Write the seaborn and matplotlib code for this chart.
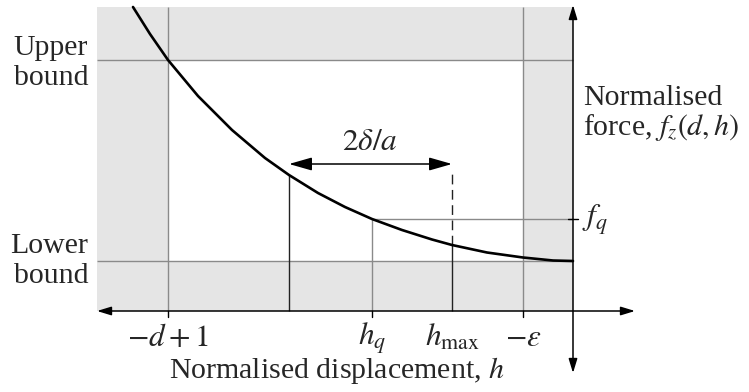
import numpy as np
import matplotlib
matplotlib.use("Agg")
import matplotlib.pyplot as plt
from matplotlib.patches import FancyArrowPatch
import seaborn as sns

# Schematic units: h = 0 at the force axis, f = 0 at the displacement axis
curve_h = [-4.40, -4.23, -4.05, -3.75, -3.41, -3.08, -2.84, -2.55, -2.28,
           -2.01, -1.71, -1.41, -1.21, -0.86, -0.50, -0.20, 0.00]
curve_f = [3.04, 2.77, 2.51, 2.15, 1.81, 1.53, 1.36, 1.18, 1.04,
           0.92, 0.81, 0.715, 0.66, 0.585, 0.535, 0.505, 0.50]

h_ticks = [-4.05, -2.01, -1.21, -0.50]
h_tick_labels = [r"$-d+1$", r"$h_q$", r"$h_{\max}$", r"$-\varepsilon$"]
h_lower, h_upper = -4.05, -0.50      # -d+1 and -eps
h_q, h_max = -2.01, -1.21
h_start = -2.84                      # left end of the 2delta/a span
f_lower, f_upper = 0.50, 2.51        # lower / upper bound
f_q = 0.92
f_span_arrow = 1.47
f_dash_top = 1.41

h_min, h_max_axis = -4.76, 0.62
f_min, f_top = -0.62, 3.06
f_shade_top = 3.04

sns.set_theme(style="white")
plt.rcParams["font.family"] = ["Liberation Serif", "DejaVu Serif"]
plt.rcParams["mathtext.fontset"] = "stix"

fig = plt.figure(figsize=(7.49, 3.92), dpi=100)
ax = fig.add_axes([0, 0, 1, 1])
ax.set_xlim(-5.73, 1.76)
ax.set_ylim(-0.81, 3.11)
ax.axis("off")

grey_fill = "#e5e5e5"
grey_line = "#8a8a8a"

# shaded outer region and white admissible window
ax.fill_between([h_min, 0], 0, f_shade_top, color=grey_fill, lw=0, zorder=0)
ax.fill_between([h_lower, h_upper], f_lower, f_upper, color="white", lw=0, zorder=0.5)

# bound lines
ax.vlines([h_lower, h_upper], 0, f_shade_top, color=grey_line, lw=1.0, zorder=1)
ax.hlines([f_lower, f_upper], h_min, 0, color=grey_line, lw=1.0, zorder=1)

# h_q / f_q guides
q_idx = curve_h.index(h_q)
ax.vlines(h_q, 0, curve_f[q_idx], color=grey_line, lw=1.0, zorder=1)
ax.hlines(f_q, h_q, 0, color=grey_line, lw=1.0, zorder=1)

# black verticals at span ends
s_idx = curve_h.index(h_start)
m_idx = curve_h.index(h_max)
ax.vlines(h_start, 0, curve_f[s_idx], color="#222222", lw=1.0, zorder=2)
ax.vlines(h_max, 0, curve_f[m_idx], color="#222222", lw=1.0, zorder=2)
ax.plot([h_max, h_max], [curve_f[m_idx], f_dash_top], color="#222222", lw=1.0,
        dashes=(7, 4), zorder=2)

# force curve
sns.lineplot(x=curve_h, y=curve_f, ax=ax, color="black", lw=1.9, zorder=4)

# axes with arrows
ax.add_patch(FancyArrowPatch((h_min, 0), (h_max_axis, 0),
                             arrowstyle="<|-|>,head_length=8.5,head_width=2.6",
                             color="black", lw=1.1, shrinkA=0, shrinkB=0, zorder=3))
ax.add_patch(FancyArrowPatch((0, f_min), (0, f_top),
                             arrowstyle="<|-|>,head_length=8.5,head_width=2.6",
                             color="black", lw=1.1, shrinkA=0, shrinkB=0, zorder=3))

# span arrow 2delta/a
ax.add_patch(FancyArrowPatch((h_start, f_span_arrow), (h_max, f_span_arrow),
                             arrowstyle="<|-|>,head_length=14,head_width=4",
                             color="black", lw=1.1, shrinkA=0, shrinkB=0, zorder=5))

# ticks
for h in [h_lower, h_q, h_upper]:
    ax.plot([h, h], [0, -0.06], color="black", lw=1.0, zorder=3)
ax.plot([-0.05, 0.05], [f_q, f_q], color="black", lw=1.0, zorder=3)

fs = 21.5
fs_math = 22.5
for h, lab in zip(h_ticks, h_tick_labels):
    ax.text(h, -0.35, lab, ha="center", va="baseline", fontsize=fs_math)

ax.text(-2.36, -0.67, r"Normalised displacement, $h$", ha="center",
        va="baseline", fontsize=fs)
ax.text(0.10, 2.06, "Normalised", ha="left", va="baseline", fontsize=fs)
ax.text(0.10, 1.76, r"force, $f_z(d,h)$", ha="left", va="baseline", fontsize=fs)
ax.text(0.09, f_q - 0.01, r"$f_q$", ha="left", va="center", fontsize=fs_math)

ax.text(-4.85, 2.56, "Upper", ha="right", va="baseline", fontsize=fs)
ax.text(-4.85, 2.26, "bound", ha="right", va="baseline", fontsize=fs)
ax.text(-4.85, 0.58, "Lower", ha="right", va="baseline", fontsize=fs)
ax.text(-4.85, 0.28, "bound", ha="right", va="baseline", fontsize=fs)

ax.text(-2.03, 1.61, r"$2\delta/a$", ha="center", va="baseline", fontsize=fs_math)

fig.savefig("out.png", dpi=100)
